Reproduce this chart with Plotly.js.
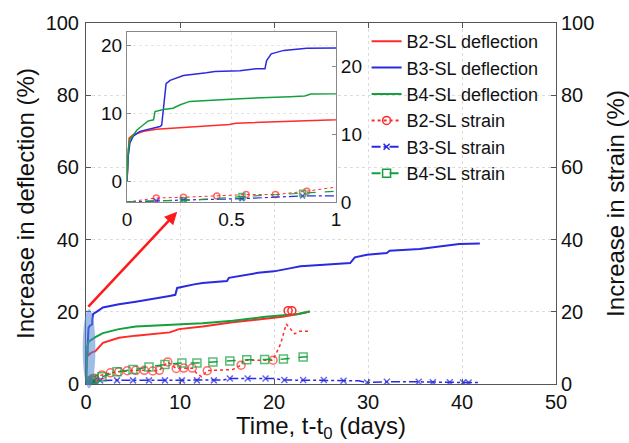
<!DOCTYPE html>
<html>
<head>
<meta charset="utf-8">
<script src="https://cdn.plot.ly/plotly-3.0.1.min.js"></script>
<style>html,body{margin:0;padding:0;background:#fff;}#chart{width:629px;height:443px;}</style>
</head>
<body>
<div id="chart"></div>
<script>
// ---- data (time in days, values in %) ----
const seriesNames = ["B2-SL deflection", "B3-SL deflection", "B4-SL deflection", "B2-SL strain", "B3-SL strain", "B4-SL strain"];

const b2DefT = [0, 0.003, 0.01, 0.03, 0.08, 0.14, 0.27, 0.42, 0.49, 0.52, 0.78, 1.0, 1.8, 3.5, 5.3, 7.1, 8.9, 9.9, 12.4, 15.6, 17.7, 19.1, 20.9, 22.6, 23.8];
const b2Def  = [0, 2.8, 6.4, 6.9, 7.4, 7.7, 8.0, 8.3, 8.4, 8.6, 8.9, 9.1, 11.4, 12.8, 13.4, 13.9, 14.3, 15.2, 15.9, 17.1, 17.7, 18.0, 18.6, 19.4, 20.1];

const b3DefT = [0, 0.006, 0.014, 0.03, 0.062, 0.11, 0.158, 0.166, 0.174, 0.187, 0.206, 0.27, 0.38, 0.42, 0.54, 0.62, 0.66, 0.668, 0.69, 0.75, 0.86, 1.0, 1.8, 3.5, 5.3, 7.1, 8.9, 9.5, 9.7, 11.5, 12.4, 15.0, 15.2, 18.3, 20.0, 21.8, 22.8, 25.3, 28.1, 28.6, 29.9, 32.0, 32.3, 35.5, 38.7, 39.7, 41.9];
const b3Def  = [0, 3.8, 5.7, 6.7, 7.4, 7.7, 8.1, 8.3, 10.5, 14.4, 14.9, 15.6, 16.0, 16.2, 16.3, 16.6, 16.6, 17.8, 18.8, 19.3, 19.6, 19.8, 21.2, 22.1, 22.8, 23.5, 24.4, 24.7, 26.6, 27.6, 28.0, 28.5, 29.4, 30.8, 31.2, 32.1, 32.6, 33.0, 33.5, 35.1, 35.8, 36.3, 36.9, 37.4, 38.4, 38.8, 38.9];

const b4DefT = [0, 0.006, 0.014, 0.048, 0.08, 0.10, 0.127, 0.134, 0.174, 0.22, 0.255, 0.3, 0.43, 0.54, 0.78, 0.85, 0.88, 1.0, 1.8, 3.5, 5.3, 7.1, 8.9, 10.7, 12.4, 15.6, 19.1, 22.6, 23.8];
const b4Def  = [0, 4.7, 6.2, 7.6, 8.4, 8.9, 9.1, 10.3, 10.6, 10.8, 11.3, 11.8, 12.0, 12.2, 12.5, 12.6, 12.9, 13.0, 14.1, 15.2, 15.9, 16.2, 16.4, 16.6, 16.8, 17.5, 18.6, 19.4, 20.1];

const b2StrT = [0, 0.14, 0.27, 0.43, 0.57, 0.71, 0.86, 1.0, 1.7, 2.6, 3.5, 4.4, 5.3, 6.2, 7.1, 7.8, 8.7, 9.6, 10.4, 11.3, 11.8, 12.3, 12.9, 14.2, 15.6, 16.5, 16.7, 19.9, 20.7, 21.3, 22.2, 22.7, 23.7];
const b2Str  = [0, 0.6, 0.7, 0.9, 1.1, 1.1, 1.6, 2.2, 2.5, 3.1, 3.4, 3.7, 3.8, 3.8, 3.6, 3.8, 6.1, 4.3, 4.4, 4.4, 2.9, 2.0, 3.7, 3.8, 4.0, 5.2, 6.6, 6.6, 11.1, 16.6, 13.9, 14.6, 14.6];
const b2StrMarkT = [0.14, 0.27, 0.43, 0.57, 0.71, 0.86, 1.7, 2.6, 3.5, 4.4, 5.3, 6.2, 7.1, 7.8, 8.7, 9.6, 10.4, 11.3, 12.9, 16.5, 19.9];
const b2StrExtraT = [21.5, 21.9];
const b2StrExtra  = [20.3, 20.3];

const b3StrT = [0, 0.14, 0.27, 0.55, 0.84, 1.0, 1.5, 3.3, 5.0, 6.7, 8.4, 10.2, 11.8, 13.6, 14.6, 15.3, 17.2, 19.1, 20.0, 21.1, 23.1, 25.3, 27.4, 29.0, 29.9, 32.0, 35.4, 36.9, 38.7, 40.1, 40.7, 41.7];
const b3Str  = [0, 0.2, 0.3, 0.5, 0.9, 0.9, 1.0, 1.0, 1.0, 1.0, 1.0, 1.0, 1.0, 1.0, 1.1, 1.5, 1.5, 1.5, 1.5, 1.1, 1.1, 1.1, 0.9, 0.9, 0.4, 0.6, 0.6, 0.5, 0.5, 0.4, 0.4, 0.4];
const b3StrMarkT = [0.14, 0.27, 0.55, 0.84, 1.5, 3.3, 5.0, 6.7, 8.4, 10.2, 11.8, 13.6, 15.3, 17.2, 19.1, 21.1, 23.1, 25.3, 27.4, 29.9, 32.0, 35.4, 36.9, 38.7, 40.1, 40.7];

const b4StrT = [0, 0.14, 0.27, 0.55, 0.84, 1.0, 1.7, 3.3, 5.0, 6.7, 8.4, 10.2, 11.8, 13.5, 15.3, 17.1, 19.0, 21.0, 23.1, 24.1];
const b4Str  = [0, 0.2, 0.2, 0.8, 1.3, 1.6, 2.0, 3.4, 4.0, 4.7, 5.4, 5.8, 5.8, 6.1, 6.4, 6.7, 6.8, 6.9, 7.5, 7.6];
const b4StrMarkT = [0.27, 0.55, 0.84, 1.7, 3.3, 5.0, 6.7, 8.4, 10.2, 11.8, 13.5, 15.3, 17.1, 19.0, 21.0, 23.1];

const mainXTicks = [0, 10, 20, 30, 40, 50];
const mainYTicks = [0, 20, 40, 60, 80, 100];
const insetXTicks = [0, 0.5, 1];
const insetYTicks = [0, 10, 20];

// ---- styles ----
const RED = '#ff2a2a', BLUE = '#2a2ae0', GREEN = '#14a03c';
const FONT = 'Liberation Sans, Arial, sans-serif';

function sizes(ts, markT, s) { return ts.map(t => markT.includes(t) ? s : 0); }

function defl(x, y, color, xa, ya, w) {
  return {x: x, y: y, type: 'scatter', mode: 'lines', xaxis: xa, yaxis: ya, showlegend: false,
          line: {color: color, width: w}, hoverinfo: 'skip'};
}
function strain(x, y, markT, color, dash, sym, ms, xa, ya, w) {
  return {x: x, y: y, type: 'scatter', mode: 'lines+markers', xaxis: xa, yaxis: ya, showlegend: false,
          line: {color: color, width: w, dash: dash},
          marker: {symbol: sym, size: sizes(x, markT, ms), color: color, line: {color: color, width: 1.5}},
          hoverinfo: 'skip'};
}
function legendItem(name, mode, color, dash, sym, ms) {
  const t = {x: [null], y: [null], type: 'scatter', mode: mode, name: name, xaxis: 'x', yaxis: 'y',
             line: {color: color, width: 2, dash: dash}};
  if (sym) t.marker = {symbol: sym, size: ms, color: color, line: {color: color, width: 1.5}};
  return t;
}

const traces = [
  // main
  defl(b2DefT, b2Def, RED, 'x', 'y', 2),
  defl(b3DefT, b3Def, BLUE, 'x', 'y', 2),
  defl(b4DefT, b4Def, GREEN, 'x', 'y', 2),
  strain(b2StrT, b2Str, b2StrMarkT, RED, 'dot', 'circle-open', 8, 'x', 'y2', 1.5),
  {x: b2StrExtraT, y: b2StrExtra, type: 'scatter', mode: 'markers', xaxis: 'x', yaxis: 'y2', showlegend: false,
   marker: {symbol: 'circle-open', size: 8, color: RED, line: {color: RED, width: 1.5}}, hoverinfo: 'skip'},
  strain(b3StrT, b3Str, b3StrMarkT, BLUE, 'dashdot', 'x-thin-open', 6, 'x', 'y2', 1.5),
  strain(b4StrT, b4Str, b4StrMarkT, GREEN, 'dash', 'square-open', 8, 'x', 'y2', 1.5),
  // inset
  defl(b2DefT, b2Def, RED, 'x2', 'y3', 1.5),
  defl(b3DefT, b3Def, BLUE, 'x2', 'y3', 1.5),
  defl(b4DefT, b4Def, GREEN, 'x2', 'y3', 1.5),
  strain(b2StrT, b2Str, b2StrMarkT, RED, 'dot', 'circle-open', 6, 'x2', 'y4', 1),
  strain(b3StrT, b3Str, b3StrMarkT, BLUE, 'dashdot', 'x-thin-open', 5, 'x2', 'y4', 1.2),
  strain(b4StrT, b4Str, b4StrMarkT, GREEN, 'dash', 'square-open', 6, 'x2', 'y4', 1.2),
  // legend entries
  legendItem(seriesNames[0], 'lines', RED, 'solid'),
  legendItem(seriesNames[1], 'lines', BLUE, 'solid'),
  legendItem(seriesNames[2], 'lines', GREEN, 'solid'),
  legendItem(seriesNames[3], 'lines+markers', RED, 'dot', 'circle-open', 8),
  legendItem(seriesNames[4], 'lines+markers', BLUE, 'dashdot', 'x-thin-open', 6),
  legendItem(seriesNames[5], 'lines+markers', GREEN, 'dash', 'square-open', 8)
];

const axBase = {showline: true, linecolor: '#555', linewidth: 1, ticks: 'inside', ticklen: 5, tickcolor: '#555',
                zeroline: false, tickfont: {family: FONT, size: 20, color: '#111'}};
const grid = {showgrid: true, gridcolor: '#dcdcdc', griddash: 'dot', gridwidth: 1};

const layout = {
  width: 629, height: 443,
  margin: {l: 86, r: 73, t: 19, b: 59},
  paper_bgcolor: '#fff', plot_bgcolor: '#fff',
  font: {family: FONT, color: '#111'},
  showlegend: true,
  legend: {x: 0.597, y: 1.0, xanchor: 'left', yanchor: 'top', bgcolor: 'rgba(0,0,0,0)',
           font: {family: FONT, size: 18, color: '#111'}, tracegroupgap: 0, itemwidth: 30},
  xaxis: Object.assign({}, axBase, grid, {domain: [0, 1], range: [0, 50], tickvals: mainXTicks, mirror: 'ticks',
           anchor: 'y', title: {text: 'Time, t-t<sub>0</sub> (days)', font: {family: FONT, size: 24, color: '#111'}, standoff: 6}}),
  yaxis: Object.assign({}, axBase, grid, {domain: [0, 1], range: [0, 100], tickvals: mainYTicks, ticklabelstandoff: 2,
           automargin: true,
           title: {text: 'Increase in deflection (%)', font: {family: FONT, size: 24, color: '#111'}, standoff: 4}}),
  yaxis2: Object.assign({}, axBase, {overlaying: 'y', side: 'right', range: [0, 100], tickvals: mainYTicks, showgrid: false,
           anchor: 'x', title: {text: 'Increase in strain (%)', font: {family: FONT, size: 24, color: '#111'}, standoff: 16}}),
  xaxis2: Object.assign({}, axBase, grid, {domain: [0.0872, 0.532], anchor: 'y3', range: [0, 1], tickvals: insetXTicks,
           mirror: true, linecolor: '#888', tickcolor: '#888', ticklen: 4, gridcolor: '#e4e4e4', tickfont: {family: FONT, size: 19, color: '#111'}}),
  yaxis3: Object.assign({}, axBase, grid, {domain: [0.504, 0.975], anchor: 'x2', range: [-3, 22], tickvals: insetYTicks,
           linecolor: '#888', tickcolor: '#888', ticklen: 4, gridcolor: '#e4e4e4', tickfont: {family: FONT, size: 19, color: '#111'}}),
  yaxis4: Object.assign({}, axBase, {overlaying: 'y3', anchor: 'x2', side: 'right', range: [0, 25], tickvals: insetYTicks,
           showgrid: false, linecolor: '#888', tickcolor: '#888', ticklen: 4, tickfont: {family: FONT, size: 19, color: '#111'}}),
  shapes: [
    {type: 'circle', xref: 'x domain', yref: 'y domain', x0: -0.007, x1: 0.02, y0: -0.012, y1: 0.208,
     fillcolor: 'rgba(80,135,210,0.55)', line: {width: 0}, layer: 'above'}
  ],
  annotations: [
    {xref: 'x', yref: 'y', axref: 'x', ayref: 'y', x: 9.7, y: 47.7, ax: 0.1, ay: 21.0, text: '',
     showarrow: true, arrowhead: 2, arrowsize: 1, arrowwidth: 2.5, arrowcolor: '#ff1a1a'}
  ]
};

Plotly.newPlot('chart', traces, layout, {displayModeBar: false, staticPlot: true});
</script>
</body>
</html>
